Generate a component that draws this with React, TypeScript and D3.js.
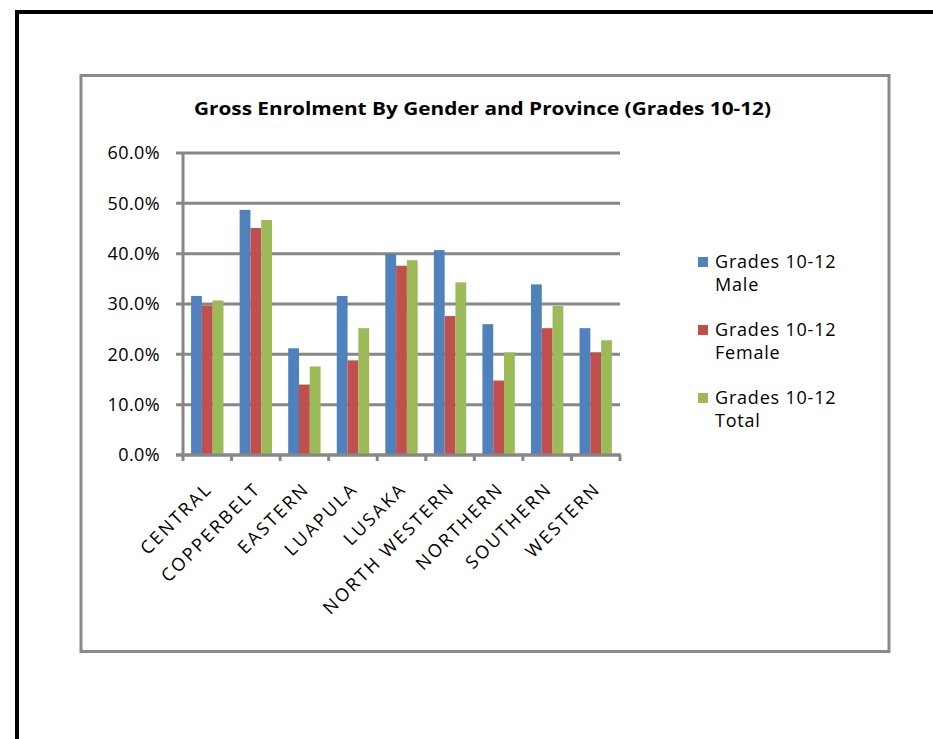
import React from "react";
import * as d3 from "d3";

const categories = ["CENTRAL", "COPPERBELT", "EASTERN", "LUAPULA", "LUSAKA", "NORTH WESTERN", "NORTHERN", "SOUTHERN", "WESTERN"];
const seriesNames = ["Grades 10-12 Male", "Grades 10-12 Female", "Grades 10-12 Total"];
const legendLine1 = ["Grades 10-12", "Grades 10-12", "Grades 10-12"];
const legendLine2 = ["Male", "Female", "Total"];
const maleValues = [31.6, 48.7, 21.2, 31.6, 39.9, 40.7, 26.0, 33.9, 25.2];
const femaleValues = [29.7, 45.1, 14.0, 18.8, 37.6, 27.6, 14.8, 25.2, 20.4];
const totalValues = [30.7, 46.7, 17.6, 25.2, 38.7, 34.3, 20.4, 29.6, 22.8];
const yTicks = [0, 10, 20, 30, 40, 50, 60];
const colors = ["#4F81BD", "#C0504D", "#9BBB59"];
const title = "Gross Enrolment By Gender and Province (Grades 10-12)";

const FONT = "'Open Sans', Lato, sans-serif";

export default function App() {
  const W = 933, H = 739;
  const left = 183, right = 620, top = 153, bottom = 455;
  const series = [maleValues, femaleValues, totalValues];

  const x = d3.scaleBand<string>().domain(categories).range([left, right]).paddingInner(0).paddingOuter(0);
  const y = d3.scaleLinear().domain([0, 60]).range([bottom, top]);
  const bw = x.bandwidth();
  const barW = bw / 4.5;
  const groupOffset = (bw - barW * 3) / 2;
  const grid = "#878787";

  return (
    <svg width={W} height={H} style={{ position: "absolute", left: 0, top: 0, background: "#fff" }}>
      <rect x={0} y={0} width={W} height={H} fill="#fff" />
      {/* outer black border */}
      <rect x={17} y={12} width={W + 20} height={H + 20} fill="none" stroke="#000" strokeWidth={4} />
      {/* chart frame */}
      <rect x={81} y={75.5} width={808} height={576} fill="#fff" stroke="#8a8a8a" strokeWidth={3} />

      <text x={194} y={115} textLength={577} lengthAdjust="spacingAndGlyphs" fontFamily={FONT} fontWeight="bold" fontSize={18} fill="#000">
        {title}
      </text>

      {/* gridlines and y ticks */}
      {yTicks.map((t) => (
        <g key={t}>
          <line x1={176} x2={right} y1={y(t)} y2={y(t)} stroke={grid} strokeWidth={3} />
          <text x={160} y={y(t)} dy="0.36em" textAnchor="end" fontFamily={FONT} fontSize={18} letterSpacing={0.4} fill="#000">
            {d3.format(".1f")(t)}%
          </text>
        </g>
      ))}
      {/* y axis */}
      <line x1={left} x2={left} y1={top} y2={bottom + 6} stroke={grid} strokeWidth={3} />
      {/* x ticks */}
      {categories.map((c) => (
        <line key={c} x1={(x(c) as number) + bw} x2={(x(c) as number) + bw} y1={bottom} y2={bottom + 6} stroke={grid} strokeWidth={3} />
      ))}

      {/* bars */}
      {series.map((vals, si) =>
        vals.map((v, ci) => (
          <rect
            key={`${si}-${ci}`}
            x={(x(categories[ci]) as number) + groupOffset + si * barW}
            y={y(v)}
            width={barW}
            height={bottom - y(v)}
            fill={colors[si]}
          />
        ))
      )}
      {/* x axis line on top of bars */}
      <line x1={176} x2={right + 1} y1={bottom} y2={bottom} stroke={grid} strokeWidth={3} />

      {/* x labels */}
      {categories.map((c) => {
        const cx = (x(c) as number) + bw / 2 + 6;
        const cy = 490;
        return (
          <text key={c} x={cx} y={cy} transform={`rotate(-45 ${cx} ${cy})`} textAnchor="end" fontFamily={FONT} fontSize={18} letterSpacing={2.3} fill="#000">
            {c}
          </text>
        );
      })}

      {/* legend */}
      {seriesNames.map((s, i) => {
        const ly = 262 + i * 68;
        return (
          <g key={s}>
            <rect x={698} y={ly - 5} width={10} height={10} fill={colors[i]} />
            <text x={715} y={ly} dy="0.36em" fontFamily={FONT} fontSize={18} letterSpacing={0.8} fill="#000">{legendLine1[i]}</text>
            <text x={715} y={ly + 23} dy="0.36em" fontFamily={FONT} fontSize={18} letterSpacing={0.8} fill="#000">{legendLine2[i]}</text>
          </g>
        );
      })}
    </svg>
  );
}
